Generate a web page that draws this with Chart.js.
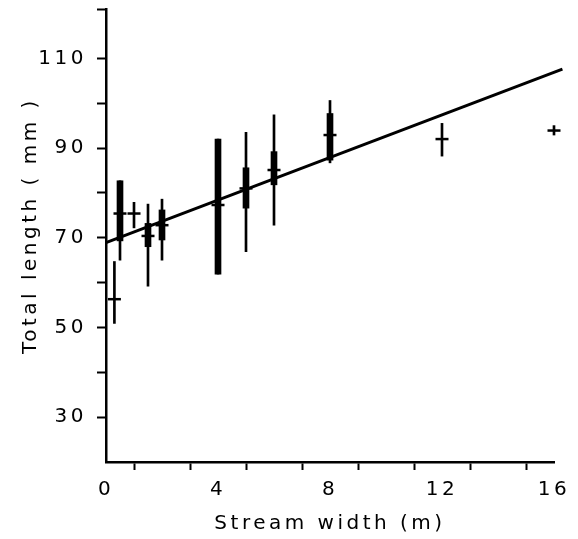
<!DOCTYPE html>
<html>
<head>
<meta charset="utf-8">
<script src="https://cdn.jsdelivr.net/npm/chart.js@4.4.0/dist/chart.umd.min.js"></script>
<style>
  html, body { margin: 0; padding: 0; background: #fff; }
  #wrap { width: 578px; height: 539px; }
</style>
</head>
<body>
<div id="wrap"><canvas id="chart" width="578" height="539"></canvas></div>
<script>
// Stream width (m) of each sample site
const widths = [0.3, 0.5, 1.0, 1.5, 2.0, 4.0, 5.0, 6.0, 8.0, 12.0, 16.0];
// mean total length (mm)
const means = [56.3, 75.4, 75.4, 70.4, 72.8, 77.3, 81.0, 85.1, 92.9, 92.0, 93.9];
// range (thin line)
const rangeLow = [50.9, 65.0, 72.2, 59.2, 65.0, 61.9, 66.9, 72.8, 86.7, 88.2, 92.9];
const rangeHigh = [64.7, 82.7, 77.9, 77.5, 78.6, 92.0, 93.5, 97.4, 100.6, 95.5, 95.0];
// thick bar (null where not drawn)
const sdLow = [null, 69.3, null, 68.0, 69.5, 61.9, 76.6, 81.8, 87.3, null, null];
const sdHigh = [null, 82.7, null, 73.2, 76.2, 92.0, 85.6, 89.2, 97.7, null, null];
// regression line end points
const fitX = [0, 16.3];
const fitY = [68.9, 107.6];

const xTicks = [0, 2, 4, 6, 8, 10, 12, 14, 16];
const xLabels = [0, 4, 8, 12, 16];
const yTicks = [20, 30, 40, 50, 60, 70, 80, 90, 100, 110, 121];
const yLabels = [30, 50, 70, 90, 110];

const FONT = "'DejaVu Sans', sans-serif";

const rangeData = widths.map((x, i) => ({ x: x, y: [rangeLow[i], rangeHigh[i]] }));
const sdData = widths
    .map((x, i) => ({ x: x, y: [sdLow[i], sdHigh[i]] }))
    .filter(d => d.y[0] !== null);
const meanData = widths.map((x, i) => ({ x: x, y: means[i] }));
const fitData = fitX.map((x, i) => ({ x: x, y: fitY[i] }));

// wide letter spacing like the original lettering
const spacing = {
    id: 'spacing',
    beforeUpdate(chart) { chart.ctx.letterSpacing = '3.5px'; },
    beforeDraw(chart) { chart.ctx.letterSpacing = '3.5px'; }
};

new Chart(document.getElementById('chart'), {
    type: 'bar',
    data: {
        datasets: [
            {
                type: 'bar',
                data: rangeData,
                backgroundColor: '#000',
                barThickness: 2,
                grouped: false,
                clip: false,
                order: 4
            },
            {
                type: 'bar',
                data: sdData,
                backgroundColor: '#000',
                barThickness: 6,
                grouped: false,
                clip: false,
                order: 3
            },
            {
                type: 'scatter',
                data: meanData,
                pointStyle: 'line',
                pointRadius: 6.5,
                borderColor: '#000',
                borderWidth: 2.5,
                clip: false,
                order: 2
            },
            {
                type: 'line',
                data: fitData,
                borderColor: '#000',
                borderWidth: 3,
                pointRadius: 0,
                clip: false,
                order: 1
            }
        ]
    },
    options: {
        responsive: false,
        animation: false,
        layout: { padding: { top: 9, right: 24, left: 0, bottom: 0 } },
        plugins: {
            legend: { display: false },
            tooltip: { enabled: false }
        },
        scales: {
            x: {
                type: 'linear',
                min: 0,
                max: 16,
                offset: false,
                afterBuildTicks: s => { s.ticks = xTicks.map(v => ({ value: v })); },
                afterFit: s => { s.height = 77; s.paddingLeft = 0; s.paddingRight = 0; },
                border: { display: true, color: '#000', width: 2.5 },
                grid: {
                    drawOnChartArea: false,
                    tickLength: 8,
                    tickWidth: 2,
                    tickColor: c => (c.tick && c.tick.value === 0) ? 'rgba(0,0,0,0)' : '#000'
                },
                ticks: {
                    color: '#000',
                    padding: 8,
                    maxRotation: 0,
                    autoSkip: false,
                    font: { family: FONT, size: 20 },
                    callback: v => xLabels.includes(v) ? String(v) : ''
                },
                title: {
                    display: true,
                    text: 'Stream width (m)',
                    color: '#000',
                    font: { family: FONT, size: 20 },
                    padding: { top: 4, bottom: 3 }
                }
            },
            y: {
                type: 'linear',
                min: 20,
                max: 121,
                afterBuildTicks: s => { s.ticks = yTicks.map(v => ({ value: v })); },
                afterFit: s => { s.width = 106; s.paddingTop = 0; s.paddingBottom = 0; },
                border: { display: true, color: '#000', width: 2.5 },
                grid: {
                    drawOnChartArea: false,
                    tickLength: 9,
                    tickWidth: 2,
                    tickColor: c => (c.tick && c.tick.value === 20) ? 'rgba(0,0,0,0)' : '#000'
                },
                ticks: {
                    color: '#000',
                    padding: 10,
                    autoSkip: false,
                    font: { family: FONT, size: 20 },
                    callback: v => yLabels.includes(v) ? String(v) : ''
                },
                title: {
                    display: true,
                    text: '  Total length ( mm )',
                    color: '#000',
                    font: { family: FONT, size: 20 },
                    padding: { top: 19, bottom: 0 }
                }
            }
        }
    },
    plugins: [spacing]
});
</script>
</body>
</html>
